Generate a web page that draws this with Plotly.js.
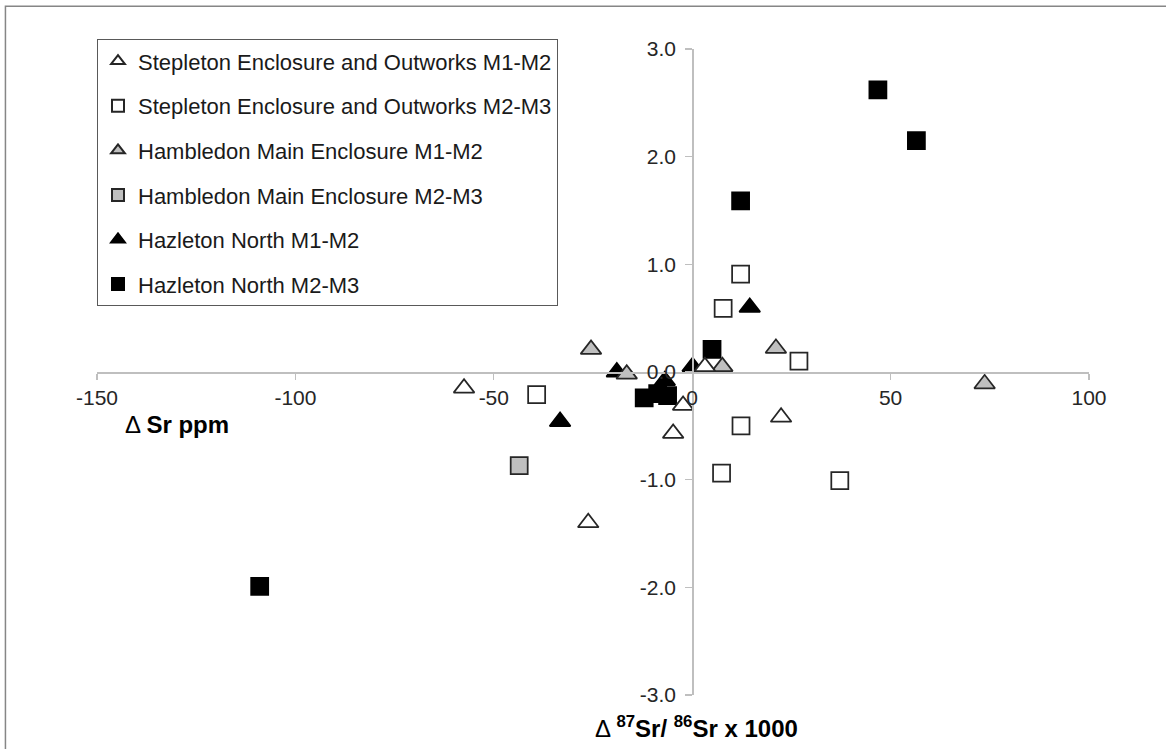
<!DOCTYPE html>
<html>
<head>
<meta charset="utf-8">
<script src="https://cdn.plot.ly/plotly-3.0.1.min.js"></script>
<style>html,body{margin:0;padding:0;background:#fff;}#chart{width:1166px;height:749px;}</style>
</head>
<body>
<div id="chart"></div>
<script>
// Series names
var seriesNames = [
  "Stepleton Enclosure and Outworks M1-M2",
  "Stepleton Enclosure and Outworks M2-M3",
  "Hambledon Main Enclosure M1-M2",
  "Hambledon Main Enclosure M2-M3",
  "Hazleton North M1-M2",
  "Hazleton North M2-M3"
];
// Δ Sr ppm (x) and Δ 87Sr/86Sr x 1000 (y)
var stepM12_x = [-57.5, -26.2, -4.8, -2.3, 3.2, 22.4];
var stepM12_y = [-0.15, -1.40, -0.57, -0.31, 0.05, -0.42];
var stepM23_x = [-39.2, 7.8, 12.2, 26.9, 12.3, 7.4, 37.2];
var stepM23_y = [-0.21, 0.59, 0.91, 0.10, -0.50, -0.94, -1.01];
var hambM12_x = [-25.5, -16.5, 7.6, 21.1, 73.7];
var hambM12_y = [0.21, -0.02, 0.05, 0.22, -0.11];
var hambM23_x = [-43.6];
var hambM23_y = [-0.87];
var hazM12_x = [-33.3, -19.0, -6.9, 0.1, 14.5];
var hazM12_y = [-0.46, 0.00, -0.08, 0.05, 0.60];
var hazM23_x = [-109.0, -12.1, -8.7, -6.2, 5.0, 12.2, 46.8, 56.5];
var hazM23_y = [-1.99, -0.24, -0.20, -0.22, 0.21, 1.59, 2.62, 2.15];

var xTicks = [-150, -100, -50, 0, 50, 100];
var yTicks = [-3, -2, -1, 0, 1, 2, 3];
var xTitle = "Δ <b>Sr ppm</b>";
var yTitle = "Δ <b><sup>87</sup>Sr/ <sup>86</sup>Sr x 1000</b>";

function tr(name, xs, ys, symbol, fill, rank) {
  var isTri = symbol.indexOf("triangle") === 0;
  return {
    type: "scatter", mode: "markers", name: name, x: xs, y: ys,
    legendgroup: "g" + rank, legendrank: rank,
    marker: {
      symbol: symbol,
      size: isTri ? 18 : 17,
      color: fill,
      line: {color: fill === "#000000" ? "#000000" : "#262626", width: 1.75}
    },
    hoverinfo: "x+y+name"
  };
}

// drawing order: Hazleton first (underneath), Stepleton last (on top)
var data = [
  tr(seriesNames[5], hazM23_x, hazM23_y, "square", "#000000", 6),
  tr(seriesNames[4], hazM12_x, hazM12_y, "triangle-up", "#000000", 5),
  tr(seriesNames[3], hambM23_x, hambM23_y, "square", "#bfbfbf", 4),
  tr(seriesNames[2], hambM12_x, hambM12_y, "triangle-up", "#bfbfbf", 3),
  tr(seriesNames[1], stepM23_x, stepM23_y, "square", "#ffffff", 2),
  tr(seriesNames[0], stepM12_x, stepM12_y, "triangle-up", "#ffffff", 1)
];

var axisCommon = {
  showgrid: false, zeroline: false, showline: true,
  linecolor: "#bfbfbf", linewidth: 1.5,
  ticks: "outside", tickcolor: "#bfbfbf", tickwidth: 1.2,
  tickfont: {family: "Liberation Sans, Arial, sans-serif", size: 21, color: "#262626"},
  automargin: false, fixedrange: true
};

var layout = {
  width: 1166, height: 749,
  margin: {l: 96.7, r: 76.5, t: 48.7, b: 54},
  paper_bgcolor: "#ffffff", plot_bgcolor: "#ffffff",
  font: {family: "Liberation Sans, Arial, sans-serif", color: "#262626"},
  showlegend: true,
  xaxis: Object.assign({}, axisCommon, {
    range: [-150, 100], tickvals: xTicks, ticktext: xTicks.map(String),
    anchor: "free", position: 0.5, ticklen: 6
  }),
  yaxis: Object.assign({}, axisCommon, {
    range: [-3, 3], tickvals: yTicks, ticktext: yTicks.map(function(v){return v.toFixed(1);}),
    anchor: "free", position: 0.6, ticklen: 7, ticklabelstandoff: 5
  }),
  legend: {
    x: 0, xanchor: "left", y: 1.015, yanchor: "top",
    bgcolor: "#ffffff", bordercolor: "#595959", borderwidth: 1,
    font: {family: "Liberation Sans, Arial, sans-serif", size: 22, color: "#1a1a1a"},
    traceorder: "grouped", tracegroupgap: 13, itemsizing: "constant"
  },
  annotations: [
    {text: xTitle, xref: "paper", yref: "paper", x: 0.0265, y: 0.418,
     xanchor: "left", yanchor: "middle", showarrow: false,
     font: {family: "Liberation Sans, Arial, sans-serif", size: 24, color: "#000000"}},
    {text: yTitle, xref: "paper", yref: "paper", x: 0.4998, y: -0.0495,
     xanchor: "left", yanchor: "middle", showarrow: false,
     font: {family: "Liberation Sans, Arial, sans-serif", size: 24, color: "#000000"}}
  ],
  shapes: [
    {type: "rect", xref: "paper", yref: "paper", x0: -0.0923, y0: -0.2, x1: 1.2, y1: 1.0661,
     line: {color: "#868686", width: 1.5}, fillcolor: "rgba(0,0,0,0)", layer: "below"}
  ]
};

Plotly.newPlot("chart", data, layout, {staticPlot: true, displayModeBar: false});
</script>
</body>
</html>
